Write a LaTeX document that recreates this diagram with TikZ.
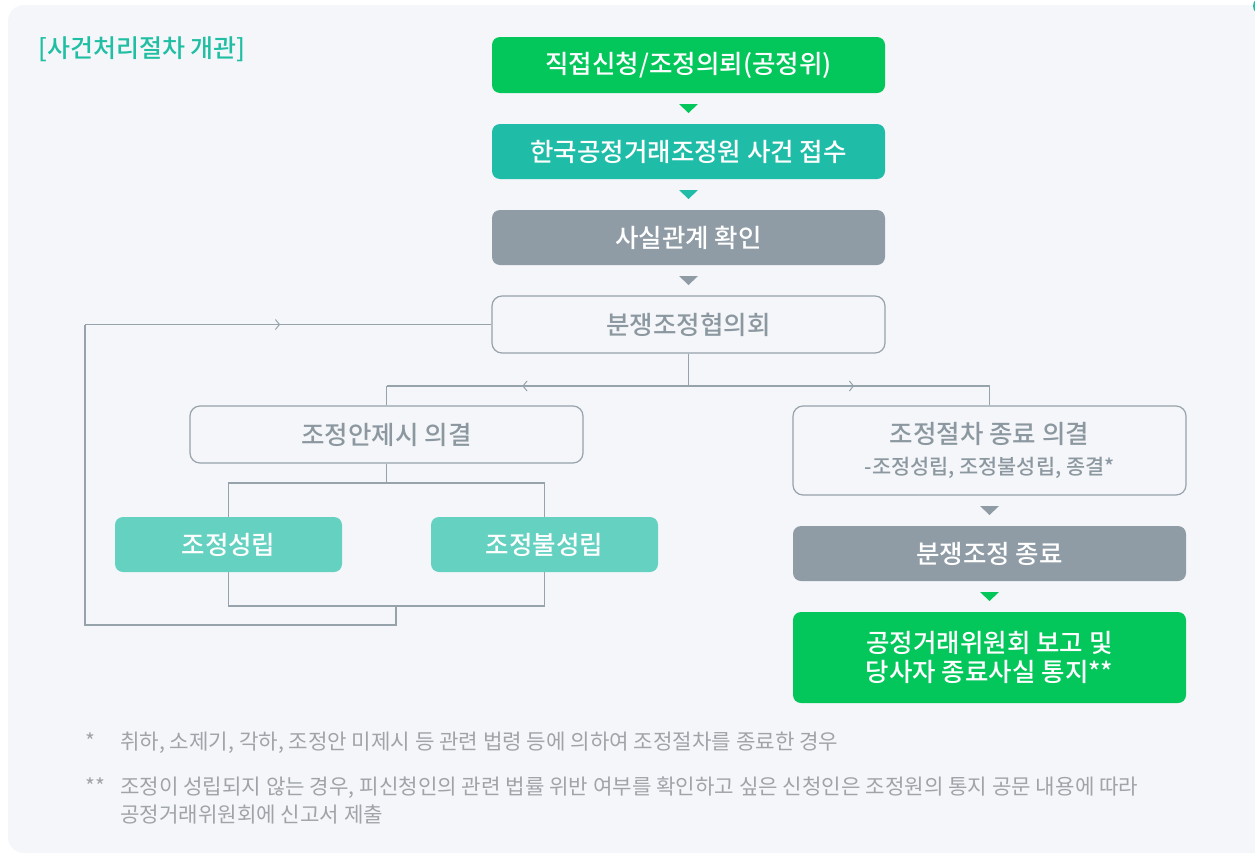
\documentclass[tikz,border=0pt]{standalone}
\usepackage{fontspec}
\setmainfont{Noto Sans CJK KR}
\newfontfamily\boxfont{Noto Sans CJK KR}[UprightFont={* Medium}]
\usetikzlibrary{calc,arrows.meta,decorations.markings,backgrounds}

\definecolor{naver}{HTML}{03C75A}
\definecolor{kteal}{HTML}{1FBDA8}
\definecolor{kgray}{HTML}{8F9CA5}
\definecolor{mint}{HTML}{64D1C1}
\definecolor{panel}{HTML}{F5F6FA}
\definecolor{wire}{HTML}{97A3AB}
\definecolor{softtext}{HTML}{8C98A0}
\definecolor{notetext}{HTML}{A0A4A9}
\definecolor{heading}{HTML}{20BFA3}

\def\droptri[#1](#2){\fill[#1] ($(#2)+(-9.5,-4.5)$) -- ($(#2)+(9.5,-4.5)$) -- ($(#2)+(0,4.5)$) -- cycle;}

\tikzset{
  box/.style={rounded corners=8pt, minimum width=393pt, minimum height=55pt, inner sep=0pt, align=center, font=\boxfont\fontsize{25.5}{29}\selectfont},
  solidbox/.style={box, fill=#1, text=white},
  plainbox/.style={box, draw=wire, line width=1.2pt, fill=panel, text=softtext, rounded corners=10pt},
  link/.style={draw=wire, line width=1.3pt},
  midtip/.style={postaction={decorate}, decoration={markings, mark=at position #1 with {\arrow{Straight Barb[length=4pt,width=10pt,line width=1pt]}}}},
  note/.style={anchor=base west, inner sep=0pt, text=notetext, font=\fontsize{21.2}{28}\selectfont},
}

\begin{document}
\begin{tikzpicture}[x=1pt, y=-1pt]
		%%%%% START %%%%%
		\useasboundingbox (0,0) rectangle (1255,854);
		\begin{scope}[on background layer]
			\fill[panel, rounded corners=16pt] (8,5) rectangle (1290,853);
			\fill[heading] (1262,6) circle (9pt);
		\end{scope}
		
		\node[anchor=base west, inner sep=0pt, text=heading, font=\boxfont\fontsize{25}{28}\selectfont] (title) at (38,57) {[사건처리절차 개관]};
		
		% main column
		\node[solidbox=naver, minimum height=56pt] (apply) at (688.5,65) {직접신청/조정의뢰(공정위)};
		\node[solidbox=kteal] (receive) at (688.5,151.5) {한국공정거래조정원 사건 접수};
		\node[solidbox=kgray] (facts) at (688.5,237.5) {사실관계 확인};
		\node[plainbox, minimum height=57pt] (council) at (688.5,324.5) {분쟁조정협의회};
		
		\droptri[naver](688.5,108.5);
		\droptri[kteal](688.5,194.5);
		\droptri[kgray](688.5,280.5);
		
		% left branch
		\node[plainbox, minimum height=57pt] (propose) at (386.5,434.5) {조정안제시 의결};
		\node[solidbox=mint, minimum width=227pt] (agreed) at (228.5,544.5) {조정성립};
		\node[solidbox=mint, minimum width=227pt] (failed) at (544.5,544.5) {조정불성립};
		
		% right branch
		\node[plainbox, minimum height=89pt, font=\boxfont\fontsize{25.5}{31}\selectfont] (endvote) at (989.5,450.5) {조정절차 종료 의결\\{\fontsize{20.8}{22}\selectfont -조정성립, 조정불성립, 종결*}};
		\node[solidbox=kgray] (closed) at (989.5,553.5) {분쟁조정 종료};
		\node[solidbox=naver, minimum height=91pt] (report) at (989.5,657.5) {공정거래위원회 보고 및\\당사자 종료사실 통지**};
		
		\droptri[kgray](989.5,510.5);
		\droptri[naver](989.5,596.5);
		
		% connectors
		\begin{scope}[on background layer]
			\coordinate (fork) at (council.south |- 0,386);
			\coordinate (forkL) at (propose.north |- fork);
			\coordinate (forkR) at (endvote.north |- fork);
			\draw[link] (council.south) -- (fork);
			\draw[link, midtip=0.55] (fork) -- (forkL);
			\draw[link] (forkL) -- (propose.north);
			\draw[link, midtip=0.55] (fork) -- (forkR);
			\draw[link] (forkR) -- (endvote.north);
			
			\coordinate (splitL) at (agreed.center |- 0,483);
			\coordinate (joinR) at (failed.center |- 0,606);
			\coordinate (loopB) at (396,625);
			\coordinate (loopBL) at (85,625);
			\coordinate (loopTL) at (loopBL |- council.west);
			\draw[link] (propose.south) -- (propose.south |- splitL);
			\draw[link] (splitL) rectangle (joinR);
			\draw[link] (loopB |- joinR) -- (loopB) -- (loopBL) -- (loopTL);
			\draw[link, midtip=0.48] (loopTL) -- (council.west);
		\end{scope}
		
		% footnotes
		\node[note] (mark1) at (85,749) {*};
		\node[note] (note1) at (120,749) {취하, 소제기, 각하, 조정안 미제시 등 관련 법령 등에 의하여 조정절차를 종료한 경우};
		\node[note] (mark2) at (85,794) {**};
		\node[note] (note2) at (120,794) {조정이 성립되지 않는 경우, 피신청인의 관련 법률 위반 여부를 확인하고 싶은 신청인은 조정원의 통지 공문 내용에 따라};
		\node[note] (note2b) at (120,822) {공정거래위원회에 신고서 제출};
		%%%%% END %%%%%
\end{tikzpicture}
\end{document}
